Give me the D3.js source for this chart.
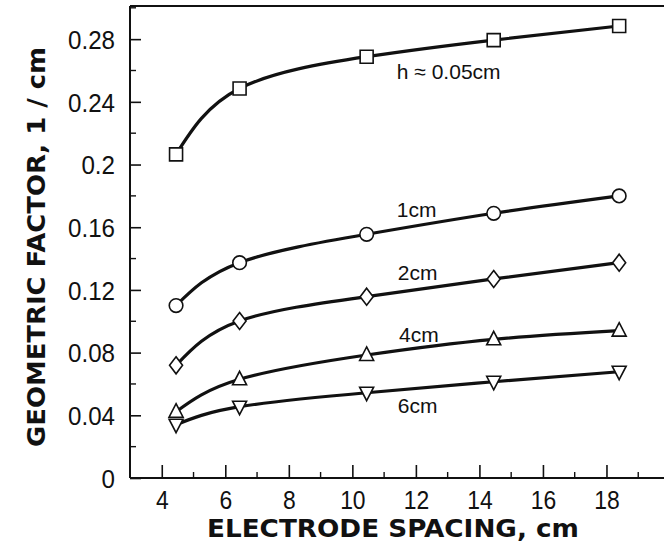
<!DOCTYPE html>
<html><head><meta charset="utf-8">
<script src="https://cdn.jsdelivr.net/npm/d3@7"></script>
<style>
html,body{margin:0;padding:0;background:#fff;}
svg{display:block;}
</style></head>
<body>
<svg id="chart" width="664" height="552"></svg>
<script>
// ---- data ----
const spacing = [4.45, 6.45, 10.45, 14.45, 18.4];
const seriesNames = ["h ≈ 0.05cm", "1cm", "2cm", "4cm", "6cm"];
const h005 = [0.2065, 0.2485, 0.2688, 0.2794, 0.2884];
const h1 = [0.1100, 0.1374, 0.1555, 0.1689, 0.1800];
const h2 = [0.0719, 0.1002, 0.1157, 0.1270, 0.1374];
const h4 = [0.0423, 0.0630, 0.0785, 0.0885, 0.0940];
const h6 = [0.0340, 0.0455, 0.0544, 0.0614, 0.0678];
const markerKinds = ["square", "circle", "diamond", "triUp", "triDown"];
const labelX = [11.4, 11.4, 11.43, 11.47, 11.43];
const labelY = [0.2546, 0.1667, 0.1263, 0.087, 0.0417];
const yTicks = [0, 0.04, 0.08, 0.12, 0.16, 0.2, 0.24, 0.28];
const yMinor = [0.02, 0.06, 0.10, 0.14, 0.18, 0.22, 0.26, 0.30];
const xTicks = [4, 6, 8, 10, 12, 14, 16, 18];
const xMinor = [5, 7, 9, 11, 13, 15, 17, 19];
const xTitle = "ELECTRODE SPACING, cm";
const yTitle = "GEOMETRIC FACTOR, 1 / cm";

const series = [h005, h1, h2, h4, h6];

const svg = d3.select("#chart");
const x = d3.scaleLinear().domain([3, 20]).range([130, 670]);
const y = d3.scaleLinear().domain([0, 0.3]).range([478, 7.8]);

const tickFont = "'Liberation Sans',Arial,sans-serif";

// frame: top line
svg.append("line").attr("x1", x(3)).attr("x2", 664).attr("y1", 6).attr("y2", 6)
  .attr("stroke", "#111").attr("stroke-width", 2);

// y axis
const yAxis = d3.axisRight(y).tickValues(yTicks).tickSize(11).tickSizeOuter(0)
  .tickFormat(d => d === 0 ? "0" : String(+d.toFixed(2)));
const gy = svg.append("g").attr("transform", `translate(${x(3)},0)`).call(yAxis);
gy.select(".domain").attr("d", `M0,6V${y(0)}`).attr("stroke", "#111").attr("stroke-width", 2);
gy.selectAll(".tick line").attr("stroke", "#111").attr("stroke-width", 1.6);
gy.selectAll(".tick text").attr("x", -15 / 0.93).attr("text-anchor", "end").attr("dy", "0.36em")
  .attr("transform", "scale(0.93,1)")
  .attr("font-family", tickFont).attr("font-size", 26).attr("fill", "#111");
svg.append("g").selectAll("line").data(yMinor).join("line")
  .attr("x1", x(3)).attr("x2", x(3) + 6).attr("y1", d => y(d)).attr("y2", d => y(d))
  .attr("stroke", "#111").attr("stroke-width", 1.4);

// x axis
const xAxis = d3.axisTop(x).tickValues(xTicks).tickSize(13).tickSizeOuter(0).tickFormat(d3.format("d"));
const gx = svg.append("g").attr("transform", `translate(0,${y(0)})`).call(xAxis);
gx.select(".domain").attr("d", `M${x(3)},0H664`).attr("stroke", "#111").attr("stroke-width", 2);
gx.selectAll(".tick line").attr("stroke", "#111").attr("stroke-width", 1.6);
gx.selectAll(".tick text").attr("y", 31).attr("dy", 0)
  .attr("transform", "scale(0.88,1)")
  .attr("font-family", tickFont).attr("font-size", 26).attr("fill", "#111");
svg.append("g").selectAll("line").data(xMinor).join("line")
  .attr("x1", d => x(d)).attr("x2", d => x(d)).attr("y1", y(0)).attr("y2", y(0) - 6)
  .attr("stroke", "#111").attr("stroke-width", 1.4);

// titles
svg.append("text").text(xTitle).attr("x", 393).attr("y", 537).attr("text-anchor", "middle")
  .attr("font-family", "'DejaVu Sans',sans-serif").attr("font-weight", "bold").attr("font-size", 25)
  .attr("textLength", 372).attr("lengthAdjust", "spacingAndGlyphs").attr("fill", "#111");
svg.append("text").text(yTitle).attr("transform", "translate(45,247) rotate(-90)").attr("text-anchor", "middle")
  .attr("font-family", "'DejaVu Sans',sans-serif").attr("font-weight", "bold").attr("font-size", 25)
  .attr("textLength", 400).attr("lengthAdjust", "spacingAndGlyphs").attr("fill", "#111");

// lines
const line = d3.line().x(d => x(d[0])).y(d => y(d[1])).curve(d3.curveNatural);
series.forEach(vals => {
  svg.append("path").datum(spacing.map((s, i) => [s, vals[i]])).attr("d", line)
    .attr("fill", "none").attr("stroke", "#111").attr("stroke-width", 3.2);
});

// marker shapes
const shapes = {
  square: { draw(ctx) { const r = 6.5; ctx.rect(-r, -r, 2 * r, 2 * r); } },
  circle: { draw(ctx) { ctx.moveTo(6.8, 0); ctx.arc(0, 0, 6.8, 0, 2 * Math.PI); } },
  diamond: { draw(ctx) { ctx.moveTo(0, -8.5); ctx.lineTo(6.5, 0); ctx.lineTo(0, 8.5); ctx.lineTo(-6.5, 0); ctx.closePath(); } },
  triUp: { draw(ctx) { ctx.moveTo(0, -8); ctx.lineTo(7, 5.5); ctx.lineTo(-7, 5.5); ctx.closePath(); } },
  triDown: { draw(ctx) { ctx.moveTo(0, 8); ctx.lineTo(7, -5.5); ctx.lineTo(-7, -5.5); ctx.closePath(); } }
};
series.forEach((vals, k) => {
  svg.append("g").selectAll("path").data(spacing.map((s, i) => [s, vals[i]])).join("path")
    .attr("d", d3.symbol().type(shapes[markerKinds[k]]))
    .attr("transform", d => `translate(${x(d[0])},${y(d[1])})`)
    .attr("fill", "#fff").attr("stroke", "#111").attr("stroke-width", 1.6);
});

// series labels
svg.append("g").selectAll("text").data(seriesNames).join("text")
  .text(d => d)
  .attr("x", (d, i) => x(labelX[i]))
  .attr("y", (d, i) => y(labelY[i]))
  .attr("font-family", "'Liberation Sans',Arial,sans-serif").attr("font-size", 21).attr("fill", "#111");
</script>
</body></html>
